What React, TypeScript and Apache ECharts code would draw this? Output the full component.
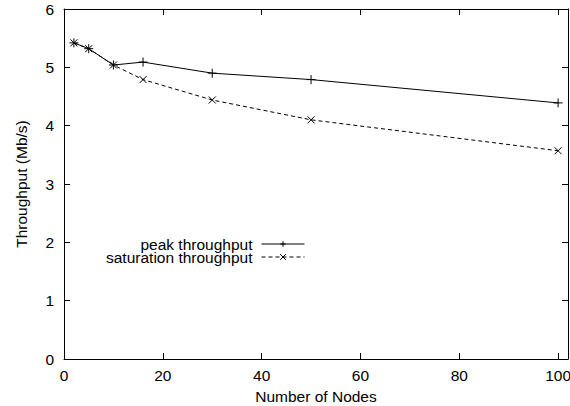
import React, { useEffect, useRef } from "react";
import * as echarts from "echarts";

const nodes = [2, 5, 10, 16, 30, 50, 100];
const peakThroughput = [5.42, 5.32, 5.04, 5.09, 4.9, 4.79, 4.39];
const saturationThroughput = [5.42, 5.32, 5.04, 4.79, 4.44, 4.1, 3.57];
const seriesNames = ["peak throughput", "saturation throughput"];

const FONT = "Liberation Sans, Arial, Helvetica, sans-serif";
const FS = 15.5;

export default function App() {
  const ref = useRef<HTMLDivElement>(null);
  useEffect(() => {
    const chart = echarts.init(ref.current!, null, { renderer: "svg" });
    const pair = (ys: number[]) => nodes.map((x, i) => [x, ys[i]]);
    const plus = "path://M5,0 L5,10 M0,5 L10,5";
    const cross = "path://M0,0 L10,10 M10,0 L0,10";
    const axisCommon = {
      type: "value" as const,
      axisLine: { show: true, onZero: false, lineStyle: { color: "#000", width: 1 } },
      axisTick: { show: true, inside: true, length: 6, lineStyle: { color: "#000" } },
      splitLine: { show: false },
    };
    chart.setOption({
      animation: false,
      backgroundColor: "#fff",
      textStyle: { fontFamily: FONT },
      grid: {
        left: 64,
        right: 2,
        top: 9,
        bottom: 47,
        containLabel: false,
        outerBoundsMode: "none",
      },
      xAxis: [
        {
          ...axisCommon,
          position: "bottom",
          min: 0,
          max: 102,
          interval: 20,
          name: "Number of Nodes",
          nameLocation: "middle",
          nameGap: 29,
          nameMoveOverlap: false,
          nameTextStyle: { fontSize: FS, color: "#000", fontFamily: FONT },
          axisLabel: {
            fontSize: FS,
            color: "#000",
            fontFamily: FONT,
            margin: 8,
            formatter: (v: number) => (v % 20 === 0 ? String(v) : ""),
          },
        },
        {
          ...axisCommon,
          position: "top",
          min: 0,
          max: 102,
          interval: 20,
          axisLabel: { show: false },
        },
      ],
      yAxis: [
        {
          ...axisCommon,
          position: "left",
          min: 0,
          max: 6,
          interval: 1,
          name: "Throughput (Mb/s)",
          nameLocation: "middle",
          nameGap: 35,
          nameMoveOverlap: false,
          nameTextStyle: { fontSize: FS, color: "#000", fontFamily: FONT },
          axisLabel: { fontSize: FS, color: "#000", fontFamily: FONT, margin: 10 },
        },
        {
          ...axisCommon,
          position: "right",
          min: 0,
          max: 6,
          interval: 1,
          axisLabel: { show: false },
        },
      ],
      legend: {
        data: seriesNames,
        orient: "vertical",
        align: "right",
        right: 265,
        top: 236,
        padding: 0,
        itemWidth: 43,
        itemHeight: 7,
        itemGap: -3,
        lineStyle: { width: 1 },
        itemStyle: { borderWidth: 1 },
        textStyle: {
          fontSize: FS,
          lineHeight: 12,
          color: "#000",
          fontFamily: FONT,
          padding: [0, 4, 0, 0],
        },
      },
      series: [
        {
          name: seriesNames[0],
          type: "line",
          data: pair(peakThroughput),
          symbol: plus,
          symbolSize: 9,
          showSymbol: true,
          lineStyle: { color: "#000", width: 1, type: "solid" },
          itemStyle: { color: "#000", borderColor: "#000", borderWidth: 1 },
        },
        {
          name: seriesNames[1],
          type: "line",
          data: pair(saturationThroughput),
          symbol: cross,
          symbolSize: 7,
          showSymbol: true,
          lineStyle: { color: "#000", width: 1, type: [4, 3] },
          itemStyle: { color: "#000", borderColor: "#000", borderWidth: 1 },
        },
      ],
    });
    return () => chart.dispose();
  }, []);
  return (
    <div
      ref={ref}
      style={{ position: "fixed", left: 0, top: 0, width: 570, height: 406 }}
    />
  );
}
